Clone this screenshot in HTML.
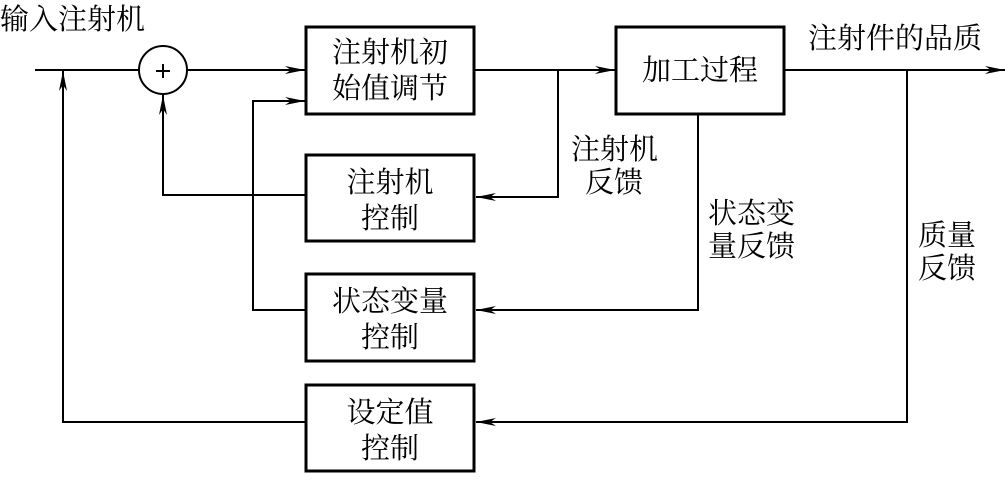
<!DOCTYPE html>
<html><head><meta charset="utf-8"><style>
body{margin:0;background:#fff}
svg text{font-family:"Liberation Serif","Noto Serif CJK SC","Noto Sans CJK SC",serif;font-size:29px;fill:#000}
</style></head><body>
<svg width="1005" height="474" viewBox="0 0 1005 474" xmlns="http://www.w3.org/2000/svg">
<defs><marker id="a" markerWidth="20" markerHeight="10" refX="20" refY="5" orient="auto" markerUnits="userSpaceOnUse"><path d="M0,1 L20,5 L0,9 L6,5 Z" fill="#000"/></marker></defs>
<g fill="none" stroke="#000">
<rect x="306" y="27" width="168" height="87" stroke-width="3"/>
<rect x="616" y="27" width="168" height="87" stroke-width="3"/>
<rect x="306" y="155" width="168" height="86" stroke-width="3"/>
<rect x="306" y="274" width="168" height="87" stroke-width="3"/>
<rect x="306" y="385" width="168" height="86" stroke-width="3"/>
<circle cx="163" cy="70" r="24" stroke-width="2"/>
<g stroke-width="2">
<line x1="35" y1="70" x2="139" y2="70"/>
<line x1="187" y1="70" x2="305" y2="70" marker-end="url(#a)"/>
<line x1="474" y1="70" x2="615" y2="70" marker-end="url(#a)"/>
<line x1="784" y1="70" x2="1005" y2="70" marker-end="url(#a)"/>
<polyline points="558,70 558,197 476,197" marker-end="url(#a)"/>
<polyline points="306,195 163,195 163,95" marker-end="url(#a)"/>
<polyline points="698,114 698,310 476,310" marker-end="url(#a)"/>
<polyline points="306,310 253,310 253,101 305,101" marker-end="url(#a)"/>
<polyline points="907,70 907,422 476,422" marker-end="url(#a)"/>
<polyline points="306,422 63,422 63,71" marker-end="url(#a)"/>
<line x1="156" y1="71" x2="170" y2="71"/><line x1="163" y1="64" x2="163" y2="78"/>
</g></g>
<text x="0" y="29">输入注射机</text>
<text x="808" y="48">注射件的品质</text>
<text x="390" y="62" text-anchor="middle">注射机初</text>
<text x="390" y="98" text-anchor="middle">始值调节</text>
<text x="700" y="80" text-anchor="middle">加工过程</text>
<text x="390" y="192" text-anchor="middle">注射机</text>
<text x="390" y="228" text-anchor="middle">控制</text>
<text x="390" y="311" text-anchor="middle">状态变量</text>
<text x="390" y="347" text-anchor="middle">控制</text>
<text x="390" y="422" text-anchor="middle">设定值</text>
<text x="390" y="458" text-anchor="middle">控制</text>
<text x="571" y="159">注射机</text>
<text x="585" y="192">反馈</text>
<text x="708" y="223">状态变</text>
<text x="708" y="256">量反馈</text>
<text x="918" y="245">质量</text>
<text x="918" y="278">反馈</text>
</svg>
</body></html>
